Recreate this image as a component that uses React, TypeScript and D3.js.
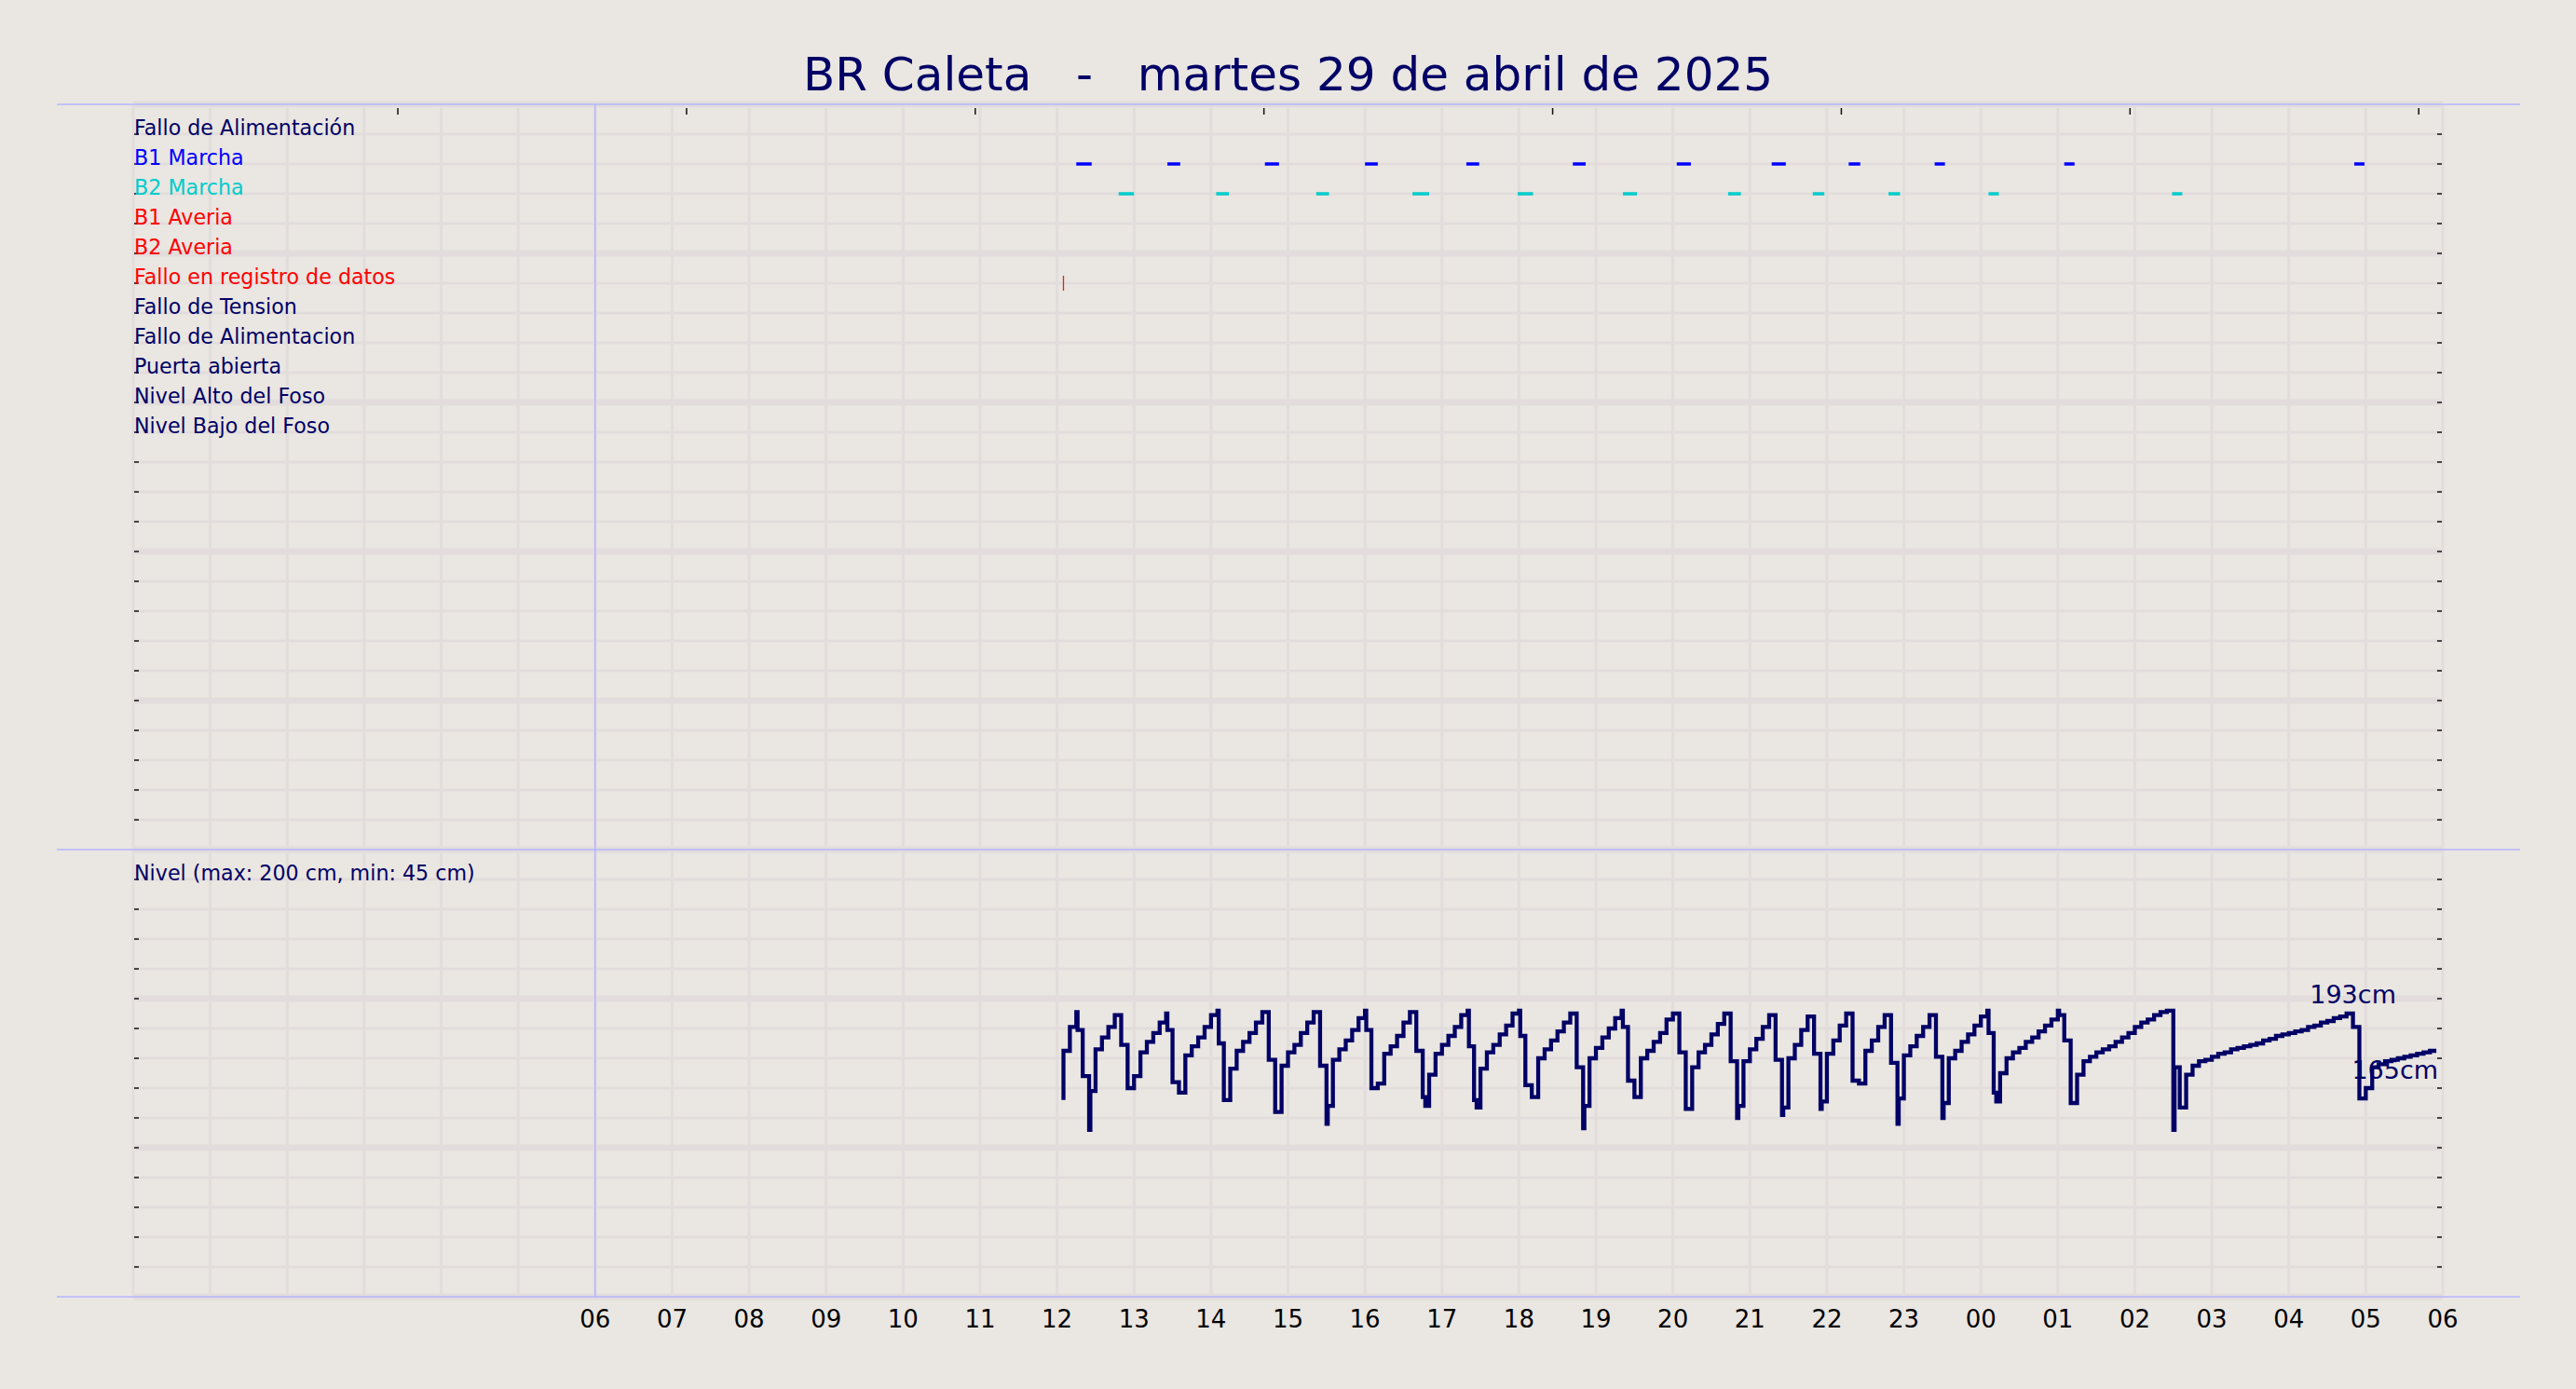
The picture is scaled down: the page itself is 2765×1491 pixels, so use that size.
import React from "react";
import * as d3 from "d3";

const W = 2765;
const H = 1491;

const titleText = "BR Caleta   -   martes 29 de abril de 2025";
const domainStart = "2025-04-29 00:00";
const domainEnd = "2025-04-30 06:00";
const labelFrom = "2025-04-29 06:00";

const signalNames = [
  "Fallo de Alimentación",
  "B1 Marcha",
  "B2 Marcha",
  "B1 Averia",
  "B2 Averia",
  "Fallo en registro de datos",
  "Fallo de Tension",
  "Fallo de Alimentacion",
  "Puerta abierta",
  "Nivel Alto del Foso",
  "Nivel Bajo del Foso",
];
const signalColors = [
  "#000066", "#0000ff", "#00cccc", "#ff0000", "#ff0000", "#ff0000",
  "#000066", "#000066", "#000066", "#000066", "#000066",
];

const b1Runs = [
  ["2025-04-29 12:15", "2025-04-29 12:27"],
  ["2025-04-29 13:26", "2025-04-29 13:36"],
  ["2025-04-29 14:42", "2025-04-29 14:53"],
  ["2025-04-29 16:00", "2025-04-29 16:10"],
  ["2025-04-29 17:19", "2025-04-29 17:29"],
  ["2025-04-29 18:42", "2025-04-29 18:52"],
  ["2025-04-29 20:03", "2025-04-29 20:14"],
  ["2025-04-29 21:17", "2025-04-29 21:28"],
  ["2025-04-29 22:17", "2025-04-29 22:26"],
  ["2025-04-29 23:24", "2025-04-29 23:32"],
  ["2025-04-30 01:05", "2025-04-30 01:13"],
  ["2025-04-30 04:51", "2025-04-30 04:59"],
];
const b2Runs = [
  ["2025-04-29 12:48", "2025-04-29 13:00"],
  ["2025-04-29 14:04", "2025-04-29 14:14"],
  ["2025-04-29 15:22", "2025-04-29 15:32"],
  ["2025-04-29 16:37", "2025-04-29 16:50"],
  ["2025-04-29 17:59", "2025-04-29 18:11"],
  ["2025-04-29 19:21", "2025-04-29 19:32"],
  ["2025-04-29 20:43", "2025-04-29 20:53"],
  ["2025-04-29 21:49", "2025-04-29 21:58"],
  ["2025-04-29 22:48", "2025-04-29 22:57"],
  ["2025-04-30 00:06", "2025-04-30 00:14"],
  ["2025-04-30 02:29", "2025-04-30 02:37"],
];
const dataFaults = ["2025-04-29 12:05"];

const topTickTimes = [
  "2025-04-29 03:26:15",
  "2025-04-29 07:11:15",
  "2025-04-29 10:56:15",
  "2025-04-29 14:41:15",
  "2025-04-29 18:26:15",
  "2025-04-29 22:11:15",
  "2025-04-30 01:56:15",
  "2025-04-30 05:41:15",
];

const levelTitle = "Nivel (max: 200 cm, min: 45 cm)";
const levelStart = "2025-04-29 12:05";
const levelStepMinutes = 5;
const levelValues = [
  132, 165, 181, 179, 148, 138, 166, 174, 181, 189, 169,
  140, 148, 164, 171, 177, 184, 179, 144, 137, 162, 168, 174,
  181, 189, 170, 132, 153, 165, 171, 177, 184, 191, 159, 124,
  155, 164, 169, 177, 184, 191, 155, 128, 159, 166, 172, 179,
  187, 179, 140, 143, 163, 168, 175, 184, 191, 165, 128, 149,
  163, 169, 175, 181, 189, 168, 127, 153, 164, 169, 176, 182,
  190, 175, 142, 134, 160, 166, 172, 178, 184, 190, 154, 128,
  160, 167, 174, 180, 187, 181, 145, 134, 160, 165, 171, 177,
  186, 190, 164, 126, 154, 164, 169, 176, 183, 190, 158, 128,
  158, 166, 173, 181, 189, 159, 127, 160, 169, 179, 188, 163,
  131, 163, 172, 182, 190, 145, 143, 165, 172, 181, 189, 157,
  133, 162, 168, 175, 181, 189, 161, 130, 160, 165, 171, 176,
  182, 188, 177, 131, 150, 160, 164, 167, 171, 174, 178, 182,
  186, 189, 172, 130, 149, 158, 161, 164, 166, 168, 171, 174,
  177, 181, 184, 186, 189, 191, 192, 154, 127, 149, 155, 158,
  159, 161, 163, 164, 166, 167, 168, 169, 170, 172, 173, 175,
  176, 177, 178, 179, 181, 182, 184, 185, 187, 188, 190, 181,
  133, 140, 154, 156, 158, 159, 160, 161, 162, 163, 164, 165,
];
const levelExtra: [string, number][] = [
  ["2025-04-29 12:16", 191], ["2025-04-29 12:26", 112], ["2025-04-29 13:26", 190],
  ["2025-04-29 14:06", 192], ["2025-04-29 15:31", 116], ["2025-04-29 16:01", 192],
  ["2025-04-29 16:47", 134], ["2025-04-29 17:21", 192], ["2025-04-29 17:27", 132],
  ["2025-04-29 18:01", 192], ["2025-04-29 18:51", 113], ["2025-04-29 19:21", 192],
  ["2025-04-29 20:51", 120], ["2025-04-29 21:26", 122], ["2025-04-29 21:56", 126],
  ["2025-04-29 22:56", 116], ["2025-04-29 23:31", 120], ["2025-04-30 00:06", 192],
  ["2025-04-30 00:12", 137], ["2025-04-30 01:01", 192], ["2025-04-30 02:31", 112],
];
const peakLabel = "193cm";
const lastLabel = "165cm";

const BG = "#eae6e1";
const GRID = "#e2dddc";
const NAVY = "#000066";
const SEP = "#b4b4ff";
const FONT = "DejaVu Sans";

export default function App() {
  const parse = d3.timeParse("%Y-%m-%d %H:%M");
  const parseS = d3.timeParse("%Y-%m-%d %H:%M:%S");
  const t0 = parse(domainStart) as Date;
  const t1 = parse(domainEnd) as Date;
  const x = d3.scaleTime().domain([t0, t1]).range([143, 2622]);
  const yTop = d3.scaleLinear().domain([0, 25]).range([912, 112]);
  const yBot = d3.scaleLinear().domain([0, 300]).range([1392, 912]);

  const hours = d3.timeHour.range(t0, d3.timeHour.offset(t1, 1));
  const labelHours = d3.timeHour.range(parse(labelFrom) as Date, d3.timeHour.offset(t1, 1));
  const fmtH = d3.timeFormat("%H");

  const ls = parse(levelStart) as Date;
  const pts = levelValues.map((v, i) => ({ t: d3.timeMinute.offset(ls, i * levelStepMinutes), v }));
  const extras = levelExtra.map(([s, v]) => ({ t: parse(s) as Date, v }));
  const all = pts.concat(extras).sort((a, b) => +a.t - +b.t);
  const line = d3
    .line<{ t: Date; v: number }>()
    .x((d) => x(d.t))
    .y((d) => yBot(d.v))
    .curve(d3.curveStepBefore);

  const last = pts[pts.length - 1];
  const tail = pts.slice(-30);
  const peak = tail.reduce((a, b) => (b.v > a.v ? b : a), tail[0]);

  const topRows = d3.range(0, 26);
  const botRows = d3.range(0, 301, 20);

  return (
    <svg width={W} height={H} style={{ position: "absolute", left: 0, top: 0 }} fontFamily={FONT}>
      <rect x={0} y={0} width={W} height={H} fill={BG} />
      {hours.map((h, i) => (
        <line key={"vg" + i} x1={x(h)} x2={x(h)} y1={112} y2={1392} stroke={GRID} strokeWidth={3} />
      ))}
      {topRows.map((r) => (
        <line key={"ht" + r} x1={143} x2={2622} y1={yTop(r)} y2={yTop(r)} stroke={GRID} strokeWidth={r % 5 === 0 ? 7 : 3} />
      ))}
      {botRows.map((r) => (
        <line key={"hb" + r} x1={143} x2={2622} y1={yBot(r)} y2={yBot(r)} stroke={GRID} strokeWidth={r % 100 === 0 ? 7 : 3} />
      ))}
      {[112, 912, 1392].map((yy, i) => (
        <line key={"sep" + i} x1={61} x2={2705} y1={yy} y2={yy} stroke={SEP} strokeWidth={1.5} />
      ))}
      <line x1={x(parse(labelFrom) as Date)} x2={x(parse(labelFrom) as Date)} y1={112} y2={1392} stroke={SEP} strokeWidth={1.5} />

      {d3.range(1, 25).map((r) => (
        <g key={"rt" + r}>
          <line x1={144} x2={149} y1={yTop(r)} y2={yTop(r)} stroke="#111" strokeWidth={1.5} />
          <line x1={2616} x2={2621} y1={yTop(r)} y2={yTop(r)} stroke="#111" strokeWidth={1.5} />
        </g>
      ))}
      {d3.range(20, 300, 20).map((r) => (
        <g key={"rb" + r}>
          <line x1={144} x2={149} y1={yBot(r)} y2={yBot(r)} stroke="#111" strokeWidth={1.5} />
          <line x1={2616} x2={2621} y1={yBot(r)} y2={yBot(r)} stroke="#111" strokeWidth={1.5} />
        </g>
      ))}
      {topTickTimes.map((s, i) => {
        const xx = x(parseS(s) as Date);
        return <line key={"tt" + i} x1={xx} x2={xx} y1={116} y2={123} stroke="#111" strokeWidth={1.5} />;
      })}

      <text x={W / 2} y={97} textAnchor="middle" fontSize={50} fill={NAVY} style={{ whiteSpace: "pre" }}>
        {titleText}
      </text>

      {signalNames.map((n, i) => (
        <text key={"sn" + i} x={144} y={yTop(24 - i) + 1} fontSize={22.2} fill={signalColors[i]}>
          {n}
        </text>
      ))}
      <text x={144} y={yBot(280) + 1} fontSize={22.2} fill={NAVY}>
        {levelTitle}
      </text>

      {b1Runs.map(([a, b], i) => (
        <line key={"b1" + i} x1={x(parse(a) as Date)} x2={x(parse(b) as Date)} y1={yTop(23)} y2={yTop(23)} stroke="#0000ff" strokeWidth={3.5} />
      ))}
      {b2Runs.map(([a, b], i) => (
        <line key={"b2" + i} x1={x(parse(a) as Date)} x2={x(parse(b) as Date)} y1={yTop(22)} y2={yTop(22)} stroke="#00cccc" strokeWidth={3.5} />
      ))}
      {dataFaults.map((s, i) => {
        const xx = x(parse(s) as Date);
        return <line key={"df" + i} x1={xx} x2={xx} y1={yTop(19) - 8} y2={yTop(19) + 8} stroke="#dd2222" strokeWidth={1.3} />;
      })}

      <path d={line(all) || ""} fill="none" stroke={NAVY} strokeWidth={4.3} strokeLinejoin="miter" />
      <text x={x(peak.t)} y={yBot(peak.v) - 11} textAnchor="middle" fontSize={27} fill={NAVY}>
        {peakLabel}
      </text>
      <text x={x(last.t) + 2} y={yBot(last.v) + 30} textAnchor="end" fontSize={27} fill={NAVY}>
        {lastLabel}
      </text>

      {labelHours.map((h, i) => (
        <text key={"xl" + i} x={x(h)} y={1425} textAnchor="middle" fontSize={26} fill="#000">
          {fmtH(h)}
        </text>
      ))}
    </svg>
  );
}
